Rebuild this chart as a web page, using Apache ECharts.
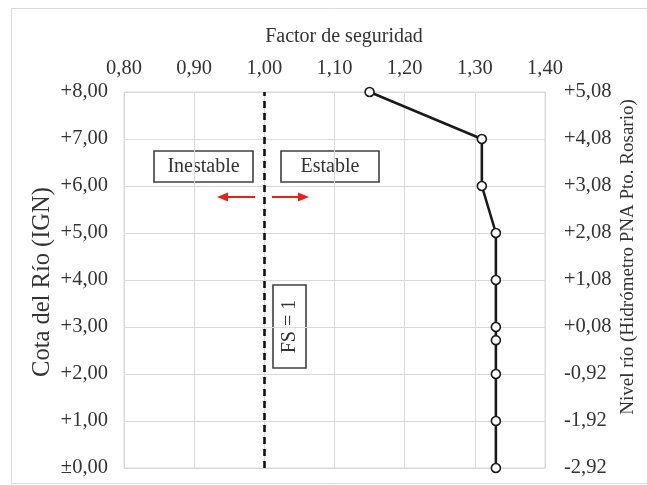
<!DOCTYPE html>
<html>
<head>
<meta charset="utf-8">
<script src="https://cdn.jsdelivr.net/npm/echarts@6/dist/echarts.min.js"></script>
<style>html,body{margin:0;padding:0;background:#fff}#c{width:647px;height:485px}</style>
</head>
<body>
<div id="c"></div>
<script>
// Data
const cota = [8, 7, 6, 5, 4, 3, 2.72, 2, 1, 0];
const factorSeguridad = [1.15, 1.31, 1.31, 1.33, 1.33, 1.33, 1.33, 1.33, 1.33, 1.33];
const fsLimit = 1.0;
const leftLabels = ['±0,00', '+1,00', '+2,00', '+3,00', '+4,00', '+5,00', '+6,00', '+7,00', '+8,00'];
const rightLabels = ['-2,92', '-1,92', '-0,92', '+0,08', '+1,08', '+2,08', '+3,08', '+4,08', '+5,08'];
const xTitle = 'Factor de seguridad';
const yLeftTitle = 'Cota del Río (IGN)';
const yRightTitle = 'Nivel río (Hidrómetro PNA Pto. Rosario)';

const FONT = '"Liberation Serif", "Times New Roman", serif';
const TXT = '#333';
const GRID = '#d9d9d9';

const chart = echarts.init(document.getElementById('c'), null, {renderer: 'canvas'});
const pts = cota.map((c, i) => [factorSeguridad[i], c]);

function boxText(x, y, w, h, text, rot) {
  return {
    type: 'group',
    children: [
      {type: 'rect', shape: {x: x, y: y, width: w, height: h},
       style: {fill: '#fff', stroke: '#404040', lineWidth: 1.6}},
      {type: 'text', x: x + w / 2, y: y + h / 2, rotation: rot || 0,
       style: {text: text, font: '20px ' + FONT, fill: TXT, align: 'center', verticalAlign: 'middle'}}
    ]
  };
}

chart.setOption({
  animation: false,
  backgroundColor: '#fff',
  grid: {left: 124, right: 102, top: 92, bottom: 17, show: true, borderColor: GRID, borderWidth: 1},
  xAxis: {
    type: 'value', position: 'top', min: 0.8, max: 1.4, interval: 0.1,
    axisLine: {show: false}, axisTick: {show: false},
    splitLine: {show: true, lineStyle: {color: GRID, width: 1}},
    axisLabel: {margin: 13, color: TXT, fontFamily: FONT, fontSize: 20.5,
      formatter: v => v.toFixed(2).replace('.', ',')}
  },
  yAxis: [
    {type: 'value', position: 'left', min: 0, max: 8, interval: 1,
     axisLine: {show: false}, axisTick: {show: false},
     splitLine: {show: true, lineStyle: {color: GRID, width: 1}},
     axisLabel: {margin: 16, color: TXT, fontFamily: FONT, fontSize: 20.5,
       formatter: v => leftLabels[Math.round(v)]}},
    {type: 'value', position: 'right', min: 0, max: 8, interval: 1,
     axisLine: {show: false}, axisTick: {show: false}, splitLine: {show: false},
     axisLabel: {margin: 19, color: TXT, fontFamily: FONT, fontSize: 20.5,
       formatter: v => rightLabels[Math.round(v)]}}
  ],
  series: [{
    type: 'line', data: pts, yAxisIndex: 0,
    symbol: 'circle', symbolSize: 9,
    lineStyle: {color: '#1a1a1a', width: 2.6},
    itemStyle: {color: '#fff', borderColor: '#1a1a1a', borderWidth: 1.6},
    z: 5,
    markLine: {
      silent: true, symbol: ['none', 'none'], label: {show: false},
      lineStyle: {color: '#111', width: 2.6, type: [7, 5]},
      data: [{xAxis: fsLimit}]
    }
  }],
  graphic: [
    {type: 'rect', shape: {x: 11.5, y: 8.5, width: 700, height: 475}, style: {fill: 'none', stroke: GRID, lineWidth: 1}, z: -10},
    {type: 'text', x: 344, y: 37, style: {text: xTitle, font: '20px ' + FONT, fill: TXT, align: 'center', verticalAlign: 'middle'}},
    {type: 'text', x: 43, y: 282, rotation: Math.PI / 2, style: {text: yLeftTitle, font: '24.5px ' + FONT, fill: TXT, align: 'center', verticalAlign: 'middle'}},
    {type: 'text', x: 628, y: 257, rotation: Math.PI / 2, style: {text: yRightTitle, font: '19px ' + FONT, fill: TXT, align: 'center', verticalAlign: 'middle'}},
    boxText(154, 151, 99, 31, 'Inestable'),
    boxText(281, 151, 98, 31, 'Estable'),
    boxText(273, 285, 33, 83, 'FS = 1', Math.PI / 2),
    {type: 'line', shape: {x1: 255, y1: 197, x2: 226, y2: 197}, style: {stroke: '#e8211b', lineWidth: 2}},
    {type: 'polygon', shape: {points: [[217, 197], [228, 192.5], [228, 201.5]]}, style: {fill: '#e8211b'}},
    {type: 'line', shape: {x1: 272, y1: 197, x2: 300, y2: 197}, style: {stroke: '#e8211b', lineWidth: 2}},
    {type: 'polygon', shape: {points: [[309, 197], [298, 192.5], [298, 201.5]]}, style: {fill: '#e8211b'}}
  ]
});
</script>
</body>
</html>
